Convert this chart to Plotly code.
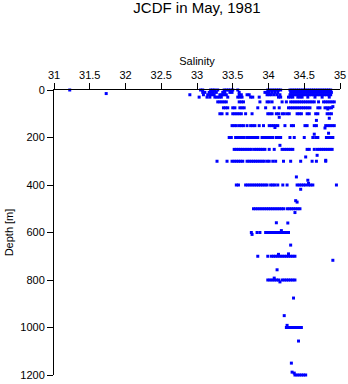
import plotly.graph_objects as go

# Salinity observations grouped by standard sampling depth (m)
sal_0 = [31.22, 33.05, 33.08, 33.19, 33.22, 33.25, 33.29, 33.38, 33.41, 33.44, 33.47, 33.50, 33.57,
         33.99, 34.02, 34.05, 34.08, 34.11, 34.14, 34.17,
         34.30, 34.33, 34.36, 34.39, 34.42, 34.45, 34.48, 34.51, 34.54, 34.57, 34.60, 34.63,
         34.66, 34.69, 34.72, 34.75, 34.78, 34.81, 34.84, 34.87]
sal_10 = [33.08, 33.11, 33.17, 33.20, 33.23, 33.27, 33.36, 33.39, 33.46, 33.49, 33.59,
          33.95, 33.98, 34.01, 34.05, 34.09, 34.13,
          34.31, 34.34, 34.37, 34.40, 34.43, 34.46, 34.49, 34.52, 34.55, 34.58, 34.61, 34.64,
          34.67, 34.70, 34.73, 34.76, 34.79, 34.82, 34.85, 34.88]
sal_20 = [32.90, 33.09, 33.15, 33.18, 33.21, 33.24, 33.32, 33.35, 33.38, 33.41, 33.59, 33.62,
          33.70, 33.73, 33.98, 34.01, 34.04, 34.08, 34.12, 34.16,
          34.30, 34.33, 34.36, 34.39, 34.42, 34.45, 34.48, 34.51, 34.54, 34.57, 34.60, 34.63,
          34.66, 34.69, 34.72, 34.75, 34.78, 34.81, 34.84, 34.87]
sal_30 = [33.03, 33.14, 33.18, 33.25, 33.28, 33.31, 33.34, 33.43, 33.57, 33.60, 33.63, 33.75,
          33.78, 33.87, 34.14, 34.17, 34.28, 34.31, 34.34, 34.41, 34.44, 34.47, 34.55, 34.65,
          34.75, 34.85]
sal_50 = [33.29, 33.32, 33.35, 33.38, 33.41, 33.59, 33.62, 33.65, 33.88, 33.98, 34.01, 34.05,
          34.19, 34.25, 34.31, 34.34, 34.37, 34.40, 34.43, 34.46, 34.49, 34.52, 34.55, 34.58,
          34.61, 34.64, 34.70, 34.77, 34.80, 34.83, 34.86, 34.89, 34.92]
sal_75 = [33.37, 33.40, 33.43, 33.50, 33.53, 33.60, 33.63, 33.66, 33.85, 33.96, 34.08, 34.15,
          34.28, 34.31, 34.34, 34.37, 34.40, 34.43, 34.46, 34.49, 34.52, 34.55, 34.58, 34.69,
          34.72, 34.79, 34.82, 34.85, 34.88]
sal_100 = [33.32, 33.35, 33.42, 33.50, 33.53, 33.56, 33.59, 33.62, 33.68, 33.77, 33.99, 34.02,
           34.05, 34.11, 34.14, 34.19, 34.22, 34.26, 34.29, 34.40, 34.43, 34.46, 34.54, 34.57,
           34.66, 34.69, 34.82, 34.85, 34.88]
sal_150 = [33.49, 33.52, 33.55, 33.59, 33.62, 33.65, 33.70, 33.75, 33.78, 33.81, 33.87, 33.93,
           34.01, 34.04, 34.07, 34.10, 34.13, 34.23, 34.32, 34.35, 34.51, 34.54, 34.64, 34.67,
           34.80, 34.83, 34.86, 34.89, 34.92]
sal_200 = [33.45, 33.48, 33.54, 33.57, 33.60, 33.63, 33.66, 33.70, 33.73, 33.76, 33.79, 33.82,
           33.85, 33.91, 33.94, 33.97, 34.00, 34.03, 34.06, 34.11, 34.14, 34.17, 34.30, 34.36,
           34.50, 34.62, 34.66, 34.69, 34.81, 34.84, 34.87, 34.90]
sal_250 = [33.52, 33.55, 33.58, 33.61, 33.64, 33.67, 33.70, 33.73, 33.76, 33.80, 33.83, 33.86,
           33.89, 33.92, 33.95, 34.01, 34.08, 34.19, 34.22, 34.25, 34.28, 34.31, 34.34, 34.54,
           34.57, 34.64, 34.68, 34.71, 34.74, 34.77, 34.80, 34.83, 34.86, 34.89]
sal_300 = [33.28, 33.42, 33.49, 33.52, 33.55, 33.58, 33.61, 33.64, 33.70, 33.73, 33.76, 33.79,
           33.82, 33.85, 33.88, 33.91, 33.94, 33.98, 34.01, 34.06, 34.10, 34.21, 34.31, 34.45,
           34.61, 34.67, 34.80]
sal_400 = [33.55, 33.58, 33.68, 33.71, 33.74, 33.77, 33.80, 33.83, 33.86, 33.89, 33.92, 33.95,
           33.98, 34.03, 34.06, 34.09, 34.13, 34.20, 34.26, 34.40, 34.43, 34.46, 34.49, 34.52,
           34.56, 34.59, 34.62, 34.95]
sal_500 = [33.79, 33.82, 33.85, 33.88, 33.91, 33.94, 33.97, 34.00, 34.03, 34.06, 34.09, 34.12,
           34.15, 34.18, 34.21, 34.26, 34.29, 34.32, 34.35, 34.38, 34.41, 34.44]
sal_600 = [33.76, 33.84, 33.88, 33.96, 33.99, 34.02, 34.05, 34.08, 34.11, 34.14, 34.17, 34.20,
           34.23, 34.26, 34.28]
sal_700 = [33.85, 33.99, 34.04, 34.07, 34.10, 34.13, 34.16, 34.19, 34.22, 34.25, 34.28, 34.31,
           34.34, 34.37]
sal_800 = [33.99, 34.02, 34.05, 34.08, 34.11, 34.14, 34.19, 34.22, 34.25, 34.28, 34.31, 34.34,
           34.37]
sal_1000 = [34.25, 34.28, 34.31, 34.34, 34.37, 34.40, 34.43, 34.46]
sal_1200 = [34.37, 34.40, 34.43, 34.46, 34.49, 34.52]

# Samples taken between the standard levels
extra_depth = [15, 70, 80, 115, 119, 128, 158, 160, 182, 186, 233, 275, 282, 296,
               366, 380, 393, 418, 466, 472, 516, 559, 560, 592, 608, 653, 690, 692,
               717, 757, 792, 808, 876, 950, 991, 1057, 1150, 1188, 1192]
extra_sal = [31.73, 34.90, 34.83, 34.15, 34.85, 34.67, 34.09, 34.79, 34.84, 34.64, 34.16,
             34.68, 34.52, 34.80, 34.39, 34.55, 34.56, 34.45, 34.38, 34.40, 34.37, 34.11,
             34.27, 34.18, 33.77, 34.31, 34.28, 34.14, 34.90, 34.12, 34.08, 34.16, 34.35,
             34.22, 34.26, 34.42, 34.32, 34.33, 34.36]

levels = [0, 10, 20, 30, 50, 75, 100, 150, 200, 250, 300, 400, 500, 600, 700, 800, 1000, 1200]
rows = [sal_0, sal_10, sal_20, sal_30, sal_50, sal_75, sal_100, sal_150, sal_200, sal_250,
        sal_300, sal_400, sal_500, sal_600, sal_700, sal_800, sal_1000, sal_1200]

salinity = []
depth = []
for lev, row in zip(levels, rows):
    salinity.extend(row)
    depth.extend([lev] * len(row))
salinity.extend(extra_sal)
depth.extend(extra_depth)

fig = go.Figure(go.Scatter(
    x=salinity, y=depth, mode="markers",
    marker=dict(symbol="square", size=3, color="#0000ff", line=dict(width=0)),
    cliponaxis=False, showlegend=False,
))

font = "Liberation Sans, Arial, sans-serif"
fig.update_layout(
    width=348, height=384,
    margin=dict(l=54, r=8, t=90, b=9, autoexpand=False),
    paper_bgcolor="white", plot_bgcolor="white",
    font=dict(family=font, size=11, color="black"),
    title=dict(text="JCDF in May, 1981", x=0.5, xref="paper", y=1 - 8 / 384,
               yref="container", yanchor="middle", xanchor="center",
               font=dict(size=15, color="black")),
    xaxis=dict(
        side="top", range=[31, 35], tickmode="array", automargin=False,
        tickvals=[31, 31.5, 32, 32.5, 33, 33.5, 34, 34.5, 35],
        ticktext=["31", "31.5", "32", "32.5", "33", "33.5", "34", "34.5", "35"],
        ticks="outside", ticklen=6, tickcolor="black", tickwidth=1,
        showline=True, linecolor="black", linewidth=1, showgrid=False, zeroline=False,
        title=dict(text="Salinity", standoff=0, font=dict(size=11)),
    ),
    yaxis=dict(
        range=[1200, 0], tickvals=[0, 200, 400, 600, 800, 1000, 1200], automargin=False,
        ticks="outside", ticklen=6, tickcolor="black", tickwidth=1,
        showline=True, linecolor="black", linewidth=1, showgrid=False, zeroline=False,
        title=dict(text="Depth [m]", standoff=4, font=dict(size=11)),
    ),
)

fig.write_html("out.html")
